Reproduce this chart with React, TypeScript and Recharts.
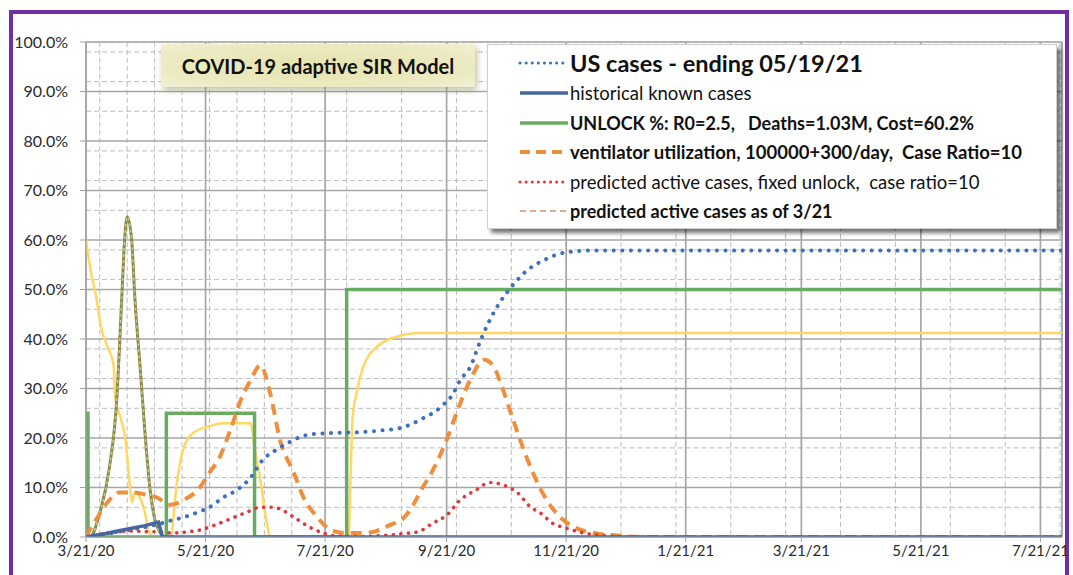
import React from "react"
import { CartesianGrid, Line, LineChart, XAxis, YAxis } from "recharts"

// x axis = days since 3/21/20
const xTickDays = [0, 61, 122, 184, 245, 306, 365, 426, 487]
const xTickLabels = ["3/21/20", "5/21/20", "7/21/20", "9/21/20", "11/21/20", "1/21/21", "3/21/21", "5/21/21", "7/21/21"]
const yTicks = [0, 10, 20, 30, 40, 50, 60, 70, 80, 90, 100]
const minorDays = [
  7, 21, 35, 49, 63, 77, 91, 105, 119, 133, 147, 161, 175, 189, 203, 217, 231, 245, 259, 273, 287, 301, 315, 329,
  343, 357, 371, 385, 399, 413, 427, 441, 455, 469, 483, 497,
]
const minorPct = [
  2, 4, 6, 8, 12, 14, 16, 18, 22, 24, 26, 28, 32, 34, 36, 38, 42, 44, 46, 48, 52, 54, 56, 58, 62, 64, 66, 68, 72, 74,
  76, 78, 82, 84, 86, 88, 92, 94, 96, 98,
]
const lastDay = 498

type Pt = [number, number]

const usCases: Pt[] = [
  [0, 0], [10, 0.6], [20, 1.3], [30, 2], [37, 2.6], [44, 3.4], [50, 4], [57, 5], [63, 6], [70, 8], [77, 9.5],
  [84, 12], [90, 15.5], [97, 17.6], [104, 19.2], [110, 20.3], [116, 20.8], [125, 21], [141, 21.2], [150, 21.5],
  [160, 22], [166, 22.8], [172, 24], [178, 25.3], [183, 27], [187, 28.7], [191, 31.7], [196, 34.3], [201, 39.4],
  [206, 43.8], [211, 47.3], [216, 50], [224, 53.5], [234, 56], [245, 57.5], [260, 57.9], [498, 57.9],
]
const historical: Pt[] = [[0, 0], [10, 0.7], [20, 1.5], [30, 2.3], [37, 3], [39, 0], [498, 0]]
const unlock: Pt[] = [[0, 0], [0, 25], [1, 0], [41, 25], [86, 0], [133, 50], [498, 50]]
const ventilator: Pt[] = [
  [0, 0], [2, 1.5], [5, 3.4], [10, 6.5], [17, 9], [24, 9], [31, 8.5], [36, 8], [43, 6.5], [50, 7.5], [57, 9.5],
  [63, 13], [68, 16], [74, 22], [79, 27.7], [84, 31.7], [89, 34.7], [94, 29], [99, 19.6], [106, 13], [111, 8],
  [118, 4], [125, 1.4], [133, 0.8], [141, 0.8], [148, 1.2], [155, 2.4], [162, 3.8], [167, 6.5], [171, 9.5],
  [177, 13.5], [184, 19.6], [189, 25], [196, 31.7], [203, 35.8], [208, 34.5], [211, 31.7], [218, 23.6], [223, 18],
  [228, 13], [235, 7.5], [242, 4], [249, 2], [259, 0.8], [271, 0.3], [285, 0], [498, 0],
]
const predictedActive: Pt[] = [
  [0, 0], [5, 0.4], [12, 0.8], [22, 1.2], [30, 1.1], [38, 1], [44, 0.8], [51, 1], [58, 1.4], [65, 2.3], [72, 3.4],
  [82, 5], [89, 6], [94, 6], [98, 5.8], [106, 4], [114, 2], [121, 0.8], [128, 0.2], [140, 0.1], [155, 0.4],
  [162, 0.7], [169, 1], [177, 2.8], [184, 4.4], [191, 7.5], [199, 9.5], [206, 11], [213, 10.5], [220, 9], [227, 6],
  [232, 4.8], [238, 2.8], [245, 1.8], [254, 0.8], [262, 0.4], [275, 0], [498, 0],
]
const asOf321: Pt[] = [
  [0, 0], [2, 0], [7, 4.8], [12, 14.2], [15.7, 27.7], [18.2, 47.9], [19.9, 61.3], [21.1, 64.7], [23.3, 60],
  [25, 47.9], [27.6, 34.4], [30.1, 21], [32.7, 9.5], [35.2, 3.4], [38, 0.8], [40, 0], [45, 0],
]
const unlockFit: Pt[] = [
  [0, 60], [3, 52.5], [4.5, 50], [8, 41.8], [11, 38.4], [14, 35], [15, 28], [18, 23.6], [20, 20], [22.5, 10],
  [23.5, 7], [25, 9], [27.5, 8], [30, 5], [31.6, 2], [33, 0.5], [34, 0], [43, 0], [46.5, 11.5], [49.5, 17.6],
  [54.6, 21], [61.7, 22.2], [70, 23], [84, 23], [86, 18], [89, 11.5], [92, 3.4], [94, 0], [134, 0], [135, 12],
  [136, 24], [138, 29], [140, 32.5], [143, 35.8], [148, 38.3], [155, 40], [162, 40.8], [169, 41.2], [498, 41.2],
]

const toData = (pts: Pt[]) => pts.map(([day, v]) => ({ day, v }))

const font = "Lato, 'Noto Sans', sans-serif"

const LegendRow = ({ y, sample, children }: { y: number; sample: React.ReactNode; children: React.ReactNode }) => (
  <div style={{ position: "absolute", left: 0, top: y, height: 30, width: "100%", display: "flex", alignItems: "center" }}>
    <svg width={82} height={30} style={{ flex: "none" }}>
      {sample}
    </svg>
    <div style={{ whiteSpace: "pre", color: "#111" }}>{children}</div>
  </div>
)

export default function App() {
  return (
    <div style={{ position: "absolute", left: 0, top: 0, width: 1073, height: 575, overflow: "hidden", background: "#fff", fontFamily: font }}>
      <div
        style={{
          position: "absolute",
          left: 9,
          top: 10,
          width: 1060,
          height: 620,
          border: "4px solid #7030A0",
          boxSizing: "border-box",
        }}
      />
      <div style={{ position: "absolute", left: 0, top: 0 }}>
        <LineChart width={1073} height={575} margin={{ top: 42, right: 11, bottom: 8, left: 0 }}>
          <CartesianGrid xAxisId="minor" yAxisId="minor" stroke="#BDBDBD" strokeDasharray="5 3" />
          <CartesianGrid stroke="#A6A6A6" strokeWidth={1.7} />
          <XAxis xAxisId="minor" dataKey="day" type="number" domain={[0, lastDay]} ticks={minorDays} allowDataOverflow hide />
          <YAxis yAxisId="minor" type="number" domain={[0, 100]} ticks={minorPct} allowDataOverflow hide />
          <XAxis
            dataKey="day"
            type="number"
            domain={[0, lastDay]}
            ticks={xTickDays}
            interval={0}
            allowDataOverflow
            height={30}
            tickSize={5}
            tickMargin={3}
            stroke="#A0A0A0"
            tick={{ fill: "#2a2a2a", fontSize: 15, fontFamily: font }}
            tickFormatter={(d: number) => xTickLabels[xTickDays.indexOf(d)] ?? ""}
          />
          <YAxis
            type="number"
            domain={[0, 100]}
            ticks={yTicks}
            interval={0}
            allowDataOverflow
            width={86}
            tickSize={6}
            tickMargin={12}
            stroke="#A0A0A0"
            tick={{ fill: "#2a2a2a", fontSize: 16, fontFamily: font }}
            tickFormatter={(v: number) => `${v.toFixed(1)}%`}
          />
          <Line data={toData(unlockFit)} dataKey="v" type="monotone" stroke="#FFD762" strokeWidth={2.5} dot={false} isAnimationActive={false} />
          <Line data={toData(asOf321)} dataKey="v" type="monotone" stroke="#8E8A45" strokeWidth={3} dot={false} isAnimationActive={false} />
          <Line data={toData(asOf321)} dataKey="v" type="monotone" stroke="#BFCF9E" strokeWidth={1.4} strokeDasharray="3 3" dot={false} isAnimationActive={false} />
          <Line data={toData(unlock)} dataKey="v" type="stepAfter" stroke="#68AC62" strokeWidth={3.5} dot={false} isAnimationActive={false} />
          <Line data={toData(ventilator)} dataKey="v" type="monotone" stroke="#EF8F3E" strokeWidth={4} strokeDasharray="11 7" dot={false} isAnimationActive={false} />
          <Line data={toData(predictedActive)} dataKey="v" type="monotone" stroke="#DC3A3F" strokeWidth={3.6} strokeDasharray="0.1 7.5" strokeLinecap="round" dot={false} isAnimationActive={false} />
          <Line data={toData(usCases)} dataKey="v" type="monotone" stroke="#3F6FBF" strokeWidth={4} strokeDasharray="0.1 8.5" strokeLinecap="round" dot={false} isAnimationActive={false} />
          <Line data={toData(historical)} dataKey="v" type="linear" stroke="#43689F" strokeWidth={3.5} dot={false} isAnimationActive={false} />
        </LineChart>
      </div>

      <div
        style={{
          position: "absolute",
          left: 161,
          top: 44,
          width: 314,
          height: 43,
          background: "radial-gradient(ellipse at center, #E6E3AE 0%, #ECEAC2 70%, #F2F0D6 100%)",
          boxShadow: "2px 3px 6px rgba(140,140,90,0.55)",
          display: "flex",
          alignItems: "center",
          justifyContent: "center",
          fontWeight: 700,
          fontSize: 20,
          color: "#111",
        }}
      >
        COVID-19 adaptive SIR Model
      </div>

      <div
        style={{
          position: "absolute",
          left: 487,
          top: 44,
          width: 568,
          height: 183,
          background: "#fff",
          border: "1px solid #D0D0D0",
          boxShadow: "4px 4px 4px rgba(0,0,0,0.55)",
          fontSize: 18.5,
        }}
      >
        <LegendRow y={3} sample={<line x1={32} y1={15} x2={76} y2={15} stroke="#3F6FBF" strokeWidth={3} strokeDasharray="0.1 6" strokeLinecap="round" />}>
          <span style={{ fontWeight: 700, fontSize: 23.5 }}>US cases - ending 05/19/21</span>
        </LegendRow>
        <LegendRow y={33} sample={<line x1={32} y1={15} x2={80} y2={15} stroke="#43689F" strokeWidth={3.5} />}>
          historical known cases
        </LegendRow>
        <LegendRow y={63} sample={<line x1={32} y1={15} x2={80} y2={15} stroke="#68AC62" strokeWidth={3.5} />}>
          <span style={{ fontWeight: 700, fontSize: 18 }}>UNLOCK %: R0=2.5,   Deaths=1.03M, Cost=60.2%</span>
        </LegendRow>
        <LegendRow y={92} sample={<line x1={32} y1={15} x2={78} y2={15} stroke="#EF8F3E" strokeWidth={4} strokeDasharray="10 6" />}>
          <span style={{ fontWeight: 700 }}>ventilator utilization, 100000+300/day,  Case Ratio=10</span>
        </LegendRow>
        <LegendRow y={122} sample={<line x1={32} y1={15} x2={76} y2={15} stroke="#DC3A3F" strokeWidth={3} strokeDasharray="0.1 6" strokeLinecap="round" />}>
          predicted active cases, fixed unlock,  case ratio=10
        </LegendRow>
        <LegendRow y={151} sample={<line x1={32} y1={15} x2={78} y2={15} stroke="#D8AE8E" strokeWidth={2} strokeDasharray="6 4" />}>
          <span style={{ fontWeight: 700, fontSize: 18 }}>predicted active cases as of 3/21</span>
        </LegendRow>
      </div>
    </div>
  )
}
